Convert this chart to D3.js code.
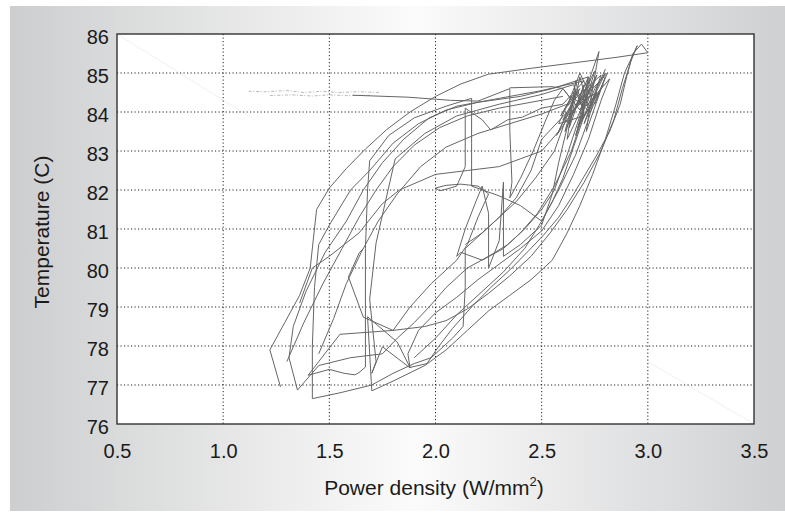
<!DOCTYPE html>
<html><head><meta charset="utf-8">
<script src="https://cdn.jsdelivr.net/npm/d3@7"></script>
<style>body{margin:0;background:#fff}svg{display:block}</style>
</head><body>
<svg id="c" width="785" height="515"></svg>
<script>
// ---- axis ticks ----
const xTicks = [0.5, 1.0, 1.5, 2.0, 2.5, 3.0, 3.5];
const yTicks = [76, 77, 78, 79, 80, 81, 82, 83, 84, 85, 86];
const xTitle = "Power density (W/mm";
const xTitleSup = "2";
const yTitle = "Temperature (C)";

// ---- traced series: [power density, temperature] ----
const outerLoop = [[1.27,76.95],[1.22,77.9],[1.29,78.6],[1.36,79.3],[1.41,80.0],[1.44,81.5],[1.5,82.05],[1.58,82.55],[1.67,83.05],[1.77,83.55],[1.88,84.0],[2.0,84.4],[2.12,84.72],[2.25,84.97],[2.45,85.12],[2.65,85.26],[2.85,85.4],[3.0,85.52],[2.97,85.74],[2.93,85.5],[2.9,84.9],[2.87,84.2],[2.82,83.5],[2.76,82.9],[2.7,82.35],[2.64,81.8],[2.58,81.3],[2.51,80.85],[2.44,80.45],[2.35,79.95],[2.26,79.5],[2.17,79.0],[2.08,78.45],[2.01,77.95],[1.96,77.55]];
const loopB = [[1.96,77.55],[1.88,77.45],[1.82,78.1],[1.68,78.75],[1.70,76.85],[1.8,77.1],[1.95,77.5],[2.05,77.9],[2.15,78.4],[2.25,78.9],[2.35,79.3],[2.45,79.7],[2.55,80.2],[2.62,80.9],[2.68,81.6],[2.74,82.4],[2.8,83.3],[2.85,84.2],[2.89,85.0],[2.95,85.7],[2.92,85.3],[2.88,84.6],[2.84,83.8],[2.78,83.0],[2.7,82.2],[2.62,81.5],[2.54,80.9],[2.45,80.3],[2.35,79.8],[2.25,79.35],[2.15,78.95],[2.05,78.65],[1.95,78.5],[1.8,78.4],[1.55,78.3],[1.45,77.6],[1.4,77.25]];
const loopC = [[1.4,77.25],[1.5,77.4],[1.57,77.3],[1.62,77.26],[1.64,77.32],[1.67,77.46],[1.67,79.0],[1.67,80.5],[1.68,82.0],[1.69,82.75],[1.78,83.4],[1.9,83.85],[2.05,84.15],[2.17,84.35],[2.17,83.2],[2.17,82.1],[2.3,81.85],[2.4,81.6],[2.5,81.2],[2.55,81.7],[2.6,82.3],[2.65,83.1],[2.7,83.9],[2.75,84.6],[2.8,85.0]];
const cluster = [[2.8,85.0],[2.72,84.1],[2.68,84.9],[2.63,83.6],[2.7,84.7],[2.65,84.0],[2.75,85.05],[2.66,83.4],[2.72,84.4],[2.6,83.8],[2.68,84.6],[2.62,84.15],[2.78,84.95],[2.7,83.7],[2.76,84.5],[2.67,84.2],[2.81,85.0],[2.73,84.0],[2.64,84.4],[2.58,83.7],[2.7,83.9],[2.66,84.8],[2.62,83.3],[2.74,84.7],[2.69,84.3],[2.77,85.55],[2.74,84.6],[2.71,83.5],[2.8,84.9],[2.75,84.2],[2.68,85.0],[2.63,84.3],[2.59,83.9],[2.66,84.55],[2.61,83.5],[2.72,84.9],[2.69,83.8],[2.79,84.7],[2.67,83.6],[2.73,84.85],[2.64,83.9],[2.7,84.45],[2.57,83.4],[2.65,84.25],[2.6,84.6],[2.68,84.05],[2.76,84.95],[2.71,84.15],[2.82,84.85]];
const loopD = [[2.82,84.85],[2.78,84.3],[2.72,83.3],[2.65,82.4],[2.58,81.6],[2.5,80.95],[2.4,80.5],[2.3,80.1],[2.2,79.7],[2.1,79.25],[2.0,78.85],[1.92,78.4],[1.87,77.8],[1.88,77.44],[1.75,77.98],[1.7,77.3],[1.72,77.6],[1.69,79.2],[1.72,80.64],[1.81,82.8],[1.95,83.45],[2.1,83.9],[2.3,84.2],[2.5,84.45],[2.65,84.7]];
const loopE = [[2.65,84.7],[2.7,84.0],[2.64,83.0],[2.56,82.1],[2.48,81.4],[2.4,80.9],[2.32,80.5],[2.22,80.2],[2.12,80.4],[2.1,80.3],[2.14,81.0],[2.19,81.7],[2.22,82.1],[2.25,81.4],[2.25,80.0],[2.3,80.7],[2.32,82.2],[2.32,80.3],[2.4,80.6],[2.5,81.1],[2.55,81.9],[2.58,82.7],[2.62,83.6],[2.66,84.5]];
const loopF = [[2.66,84.5],[2.62,83.9],[2.56,83.0],[2.47,82.3],[2.38,81.7],[2.28,81.2],[2.2,80.8],[2.14,80.5],[2.14,79.5],[2.13,78.5],[2.08,78.2],[1.98,77.7],[1.9,77.55],[1.8,77.3],[1.7,77.0],[1.55,76.8],[1.42,76.65],[1.42,78.0],[1.43,79.5],[1.45,80.6],[1.5,81.1],[1.6,82.0],[1.69,82.5],[1.8,83.2],[1.92,83.7],[2.05,84.05],[2.2,84.25],[2.4,84.4],[2.55,84.6],[2.72,84.9]];
const loopG = [[2.72,84.9],[2.68,83.9],[2.62,82.9],[2.56,82.0],[2.5,81.5],[2.42,81.0],[2.34,80.6],[2.25,80.3],[2.15,80.0],[2.05,79.5],[1.97,79.0],[1.9,78.6],[1.82,78.2],[1.75,77.8],[1.6,77.7],[1.45,77.5],[1.35,76.87],[1.31,77.7],[1.33,78.5],[1.39,79.4],[1.48,80.4],[1.58,81.2],[1.66,82.0],[1.75,82.7],[1.85,83.3],[1.97,83.85],[2.1,84.15],[2.3,84.35],[2.5,84.55],[2.7,84.8]];
const loopH = [[2.7,84.8],[2.6,84.2],[2.5,84.1],[2.41,83.87],[2.34,83.8],[2.26,83.54],[2.22,83.8],[2.14,84.1],[2.14,82.6],[2.1,82.1],[2.05,82.02],[2.02,81.98],[2.0,82.05],[2.05,82.12],[2.12,82.15],[2.2,82.1],[2.25,81.9],[2.2,81.3],[2.15,80.6],[2.1,80.2],[1.98,79.6],[1.88,79.0],[1.8,78.4],[1.66,78.74],[1.59,79.77],[1.64,80.38],[1.66,80.5]];
const loopI = [[1.36,79.1],[1.42,80.0],[1.5,80.3],[1.64,80.9],[1.75,81.65],[1.83,82.0],[2.0,82.4],[2.15,82.5],[2.3,82.6],[2.4,82.8],[2.5,83.0],[2.58,83.5],[2.62,84.0],[2.5,83.3],[2.45,82.5],[2.38,81.8],[2.3,81.3],[2.22,80.9],[2.14,80.6]];
const loopJ = [[1.61,84.43],[1.87,84.38],[2.07,84.3],[2.2,84.28],[2.35,84.6],[2.35,83.5],[2.36,82.2],[2.35,81.8],[2.4,82.3],[2.46,83.0],[2.52,83.8],[2.56,84.3],[2.6,84.6],[2.55,84.65],[2.35,84.62]];
const arcK = [[1.3,77.6],[1.38,78.6],[1.47,79.6],[1.56,80.5],[1.64,81.3],[1.72,82.0],[1.8,82.6],[1.9,83.15],[2.02,83.6],[2.15,83.9],[2.3,84.1],[2.45,84.25],[2.6,84.4]];
const arcL = [[1.45,77.8],[1.52,78.7],[1.58,79.6],[1.65,80.4],[1.73,81.2],[1.82,81.9],[1.93,82.6],[2.05,83.1],[2.2,83.45],[2.35,83.7],[2.5,83.95],[2.62,84.2]];
const diagM = [[1.9,77.7],[2.0,78.2],[2.1,78.8],[2.2,79.3],[2.32,79.9],[2.42,80.5],[2.5,81.2],[2.58,82.0],[2.66,82.9],[2.72,83.8],[2.76,84.6],[2.8,85.1]];
const faintTrailA = [[1.12,84.53],[1.2,84.52],[1.3,84.55],[1.38,84.5],[1.46,84.53],[1.55,84.5],[1.63,84.52],[1.74,84.5]];
const faintTrailB = [[1.22,84.42],[1.32,84.44],[1.42,84.41],[1.5,84.44],[1.58,84.42],[1.7,84.43]];
const traces = [outerLoop, loopB, loopC, cluster, loopD, loopE, loopF, loopG, loopH, loopI, loopJ, arcK, arcL, diagM];

const svg = d3.select("#c");
const m = {l:117, r:754, t:34, b:424};
const x = d3.scaleLinear().domain([0.5, 3.5]).range([m.l, m.r]);
const y = d3.scaleLinear().domain([76, 86]).range([m.b, m.t]);

// background panel gradient
const defs = svg.append("defs");
const g = defs.append("linearGradient").attr("id","bg").attr("x1","0").attr("x2","1").attr("y1","0").attr("y2","0");
g.append("stop").attr("offset","0%").attr("stop-color","#cdcecf");
g.append("stop").attr("offset","52%").attr("stop-color","#fbfbfb");
g.append("stop").attr("offset","100%").attr("stop-color","#cfd0d2");
svg.append("rect").attr("x",10).attr("y",6).attr("width",775).attr("height",505).attr("fill","url(#bg)");

// plot area
svg.append("rect").attr("x",m.l).attr("y",m.t).attr("width",m.r-m.l).attr("height",m.b-m.t).attr("fill","#fff");

// faint artefact diagonals
svg.append("line").attr("x1",x(0.5)).attr("y1",y(86)).attr("x2",x(1.12)).attr("y2",y(83.9)).attr("stroke","#ececec").attr("stroke-width",0.8);
svg.append("line").attr("x1",x(3.0)).attr("y1",y(77.6)).attr("x2",x(3.5)).attr("y2",y(76)).attr("stroke","#ececec").attr("stroke-width",0.8);

// grid
const grid = svg.append("g").attr("stroke","#222").attr("stroke-width",1).attr("stroke-dasharray","1.2,2.3");
xTicks.slice(1,-1).forEach(v=>grid.append("line").attr("x1",x(v)).attr("x2",x(v)).attr("y1",m.t).attr("y2",m.b));
yTicks.slice(1,-1).forEach(v=>grid.append("line").attr("y1",y(v)).attr("y2",y(v)).attr("x1",m.l).attr("x2",m.r));

// faint trails
const line = d3.line().x(d=>x(d[0])).y(d=>y(d[1]));
[faintTrailA, faintTrailB].forEach(t=>svg.append("path").attr("d",line(t)).attr("fill","none").attr("stroke","#b8b8b8").attr("stroke-width",1).attr("stroke-dasharray","3,1.5,1,2"));

// traces
const tg = svg.append("g").attr("fill","none").attr("stroke","#666").attr("stroke-width",1).attr("stroke-linejoin","round");
traces.forEach(t=>tg.append("path").attr("d",line(t)));

// border
svg.append("rect").attr("x",m.l).attr("y",m.t).attr("width",m.r-m.l).attr("height",m.b-m.t).attr("fill","none").attr("stroke","#333").attr("stroke-width",1.4);

// axes (tick labels only)
const font = "'Liberation Sans', Arial, Helvetica, sans-serif";
const xAxis = d3.axisBottom(x).tickValues(xTicks).tickFormat(d3.format(".1f")).tickSize(0).tickPadding(0);
const xa = svg.append("g").attr("transform",`translate(0,${m.b})`).call(xAxis);
xa.select(".domain").remove();
xa.selectAll("text").attr("font-family",font).attr("font-size",20).attr("fill","#1a1a1a").attr("dy",null).attr("y",34);
const yAxis = d3.axisLeft(y).tickValues(yTicks).tickFormat(d3.format("d")).tickSize(0).tickPadding(0);
const ya = svg.append("g").attr("transform",`translate(${m.l-8},0)`).call(yAxis);
ya.select(".domain").remove();
ya.selectAll("text").attr("font-family",font).attr("font-size",20).attr("fill","#1a1a1a").attr("dy","0.36em").attr("y",2);

// titles
const xt = svg.append("text").attr("x",434).attr("y",495).attr("text-anchor","middle").attr("font-family",font).attr("font-size",21).attr("fill","#1a1a1a");
xt.append("tspan").text(xTitle);
xt.append("tspan").attr("font-size",13).attr("dy",-9).text(xTitleSup);
xt.append("tspan").attr("dy",9).text(")");
svg.append("text").attr("transform","translate(49,232) rotate(-90)").attr("text-anchor","middle").attr("font-family",font).attr("font-size",21).attr("fill","#1a1a1a").text(yTitle);
</script>
</body></html>
